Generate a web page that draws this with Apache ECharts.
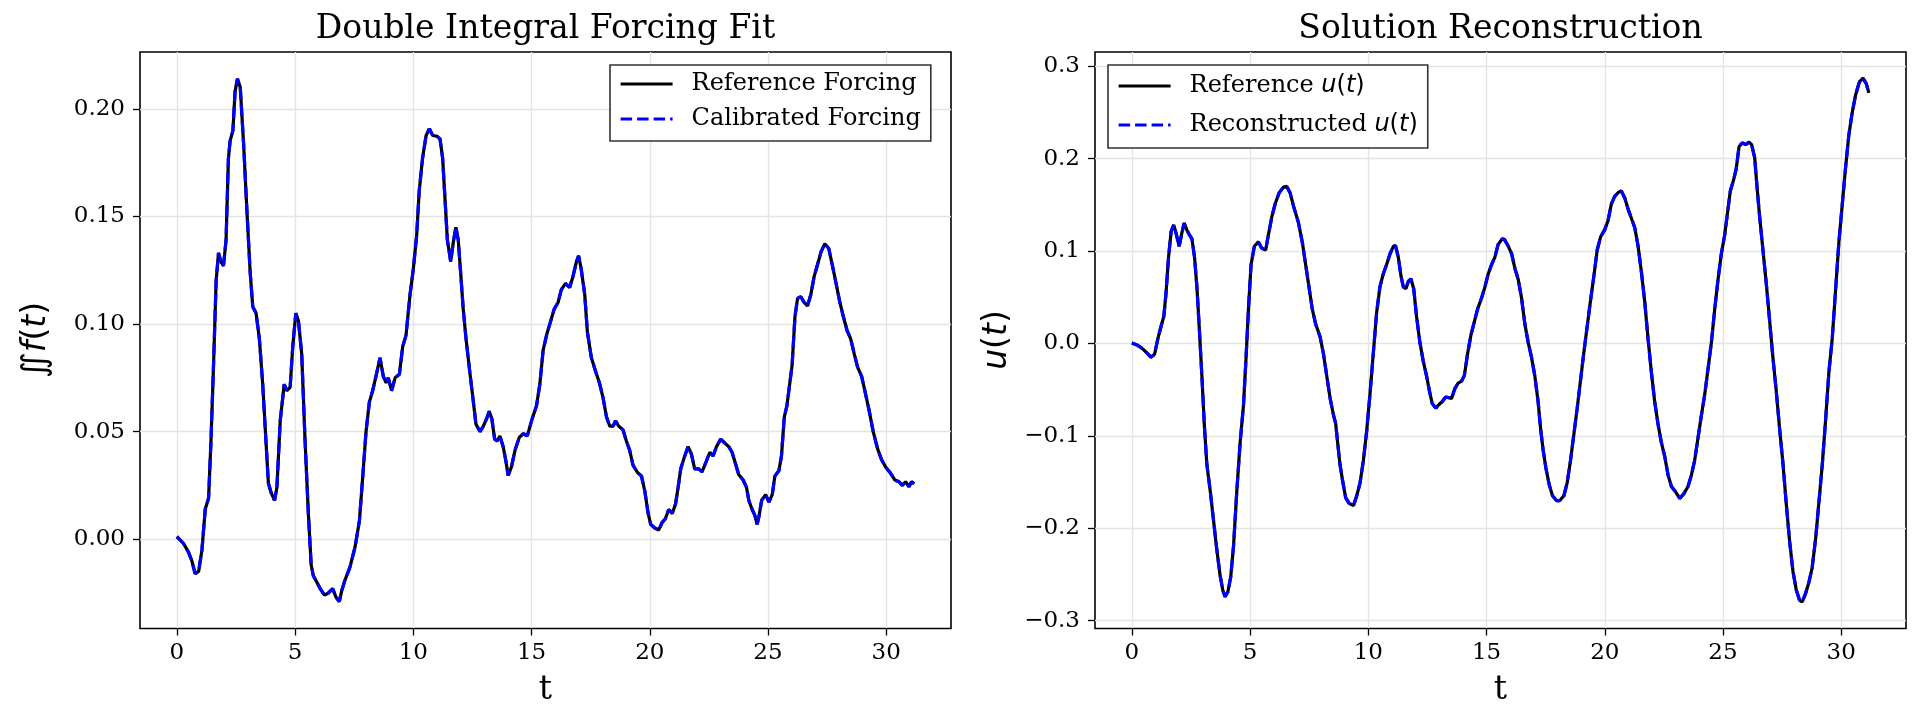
<!DOCTYPE html>
<html>
<head>
<meta charset="UTF-8">
<title>Forcing fit</title>
<script src="https://cdn.jsdelivr.net/npm/echarts@6/dist/echarts.min.js"></script>
<style>
  body{margin:0;background:#fff}
</style>
</head>
<body>
<div id="main" style="width:1921px;height:721px"></div>
<script>
// left panel: double integral of the forcing
var tForce = [0.00,0.28,0.49,0.63,0.77,0.92,1.06,1.20,1.34,1.44,1.55,1.66,1.76,1.86,1.97,2.08,2.18,2.25,2.37,2.46,
  2.56,2.68,2.82,2.96,3.10,3.21,3.35,3.49,3.63,3.77,3.87,3.99,4.13,4.23,4.37,4.54,4.65,4.79,4.90,5.03,
  5.14,5.28,5.42,5.56,5.68,5.77,5.92,6.06,6.24,6.41,6.59,6.73,6.87,6.97,7.11,7.32,7.54,7.72,7.86,8.00,
  8.14,8.28,8.42,8.59,8.73,8.85,8.94,9.08,9.23,9.41,9.55,9.69,9.86,10.00,10.14,10.25,10.39,10.54,10.68,10.82,
  10.99,11.13,11.24,11.34,11.44,11.58,11.69,11.80,11.90,12.00,12.11,12.23,12.39,12.54,12.65,12.82,12.96,13.10,13.21,13.32,
  13.44,13.55,13.66,13.80,13.92,14.01,14.15,14.30,14.48,14.65,14.82,15.00,15.21,15.35,15.49,15.65,15.80,15.95,16.12,16.26,
  16.43,16.61,16.75,16.90,16.99,17.10,17.25,17.36,17.53,17.70,17.88,18.03,18.17,18.31,18.45,18.55,18.69,18.87,19.01,19.15,
  19.29,19.48,19.65,19.79,19.93,20.04,20.21,20.38,20.52,20.66,20.80,20.95,21.09,21.20,21.31,21.48,21.62,21.76,21.90,22.07,
  22.21,22.36,22.54,22.68,22.82,23.00,23.17,23.34,23.48,23.62,23.76,23.95,24.09,24.19,24.33,24.44,24.54,24.63,24.73,24.90,
  25.04,25.18,25.29,25.46,25.57,25.69,25.80,25.92,26.02,26.14,26.25,26.39,26.53,26.67,26.81,26.95,27.09,27.24,27.40,27.57,
  27.72,27.88,28.04,28.19,28.34,28.50,28.65,28.79,28.96,29.10,29.27,29.45,29.63,29.80,29.97,30.16,30.37,30.54,30.68,30.82,
  30.96,31.07,31.18];
var forceRef = [0.0012,-0.002,-0.006,-0.010,-0.016,-0.015,-0.005,0.014,0.019,0.045,0.081,0.120,0.133,0.129,0.127,0.139,0.177,0.185,0.190,0.208,
  0.214,0.210,0.184,0.153,0.124,0.108,0.105,0.093,0.072,0.045,0.026,0.0215,0.018,0.024,0.055,0.072,0.069,0.0706,0.0895,0.105,
  0.1015,0.086,0.046,0.012,-0.012,-0.017,-0.020,-0.023,-0.026,-0.025,-0.023,-0.027,-0.029,-0.024,-0.019,-0.013,-0.0034,0.0086,0.029,0.050,
  0.0637,0.069,0.0757,0.0843,0.0757,0.0726,0.075,0.069,0.075,0.0766,0.0895,0.0947,0.1136,0.1256,0.141,0.162,0.177,0.1876,0.1907,0.1876,
  0.1873,0.186,0.177,0.158,0.139,0.129,0.138,0.145,0.139,0.124,0.107,0.093,0.0775,0.0637,0.0534,0.050,0.0525,0.056,0.0594,0.056,
  0.0465,0.0456,0.048,0.043,0.036,0.0296,0.0336,0.0413,0.0473,0.049,0.048,0.055,0.062,0.072,0.0878,0.0955,0.1010,0.1067,0.110,0.116,
  0.1188,0.117,0.122,0.129,0.1317,0.1256,0.1136,0.0964,0.0843,0.0783,0.0723,0.0654,0.0568,0.0525,0.0525,0.055,0.0525,0.0508,0.0456,0.0413,
  0.0344,0.031,0.0293,0.0224,0.012,0.0069,0.0052,0.0043,0.0077,0.0095,0.0138,0.012,0.0164,0.0241,0.0327,0.0387,0.043,0.0396,0.0327,0.0327,
  0.0313,0.0353,0.0404,0.0387,0.043,0.0465,0.0447,0.043,0.0404,0.0353,0.0301,0.0275,0.0241,0.018,0.0138,0.0112,0.0069,0.0112,0.018,0.0207,
  0.0172,0.0207,0.0293,0.0318,0.0387,0.0568,0.062,0.0723,0.0809,0.1033,0.1119,0.1127,0.110,0.1084,0.1136,0.122,0.1274,0.1334,0.1373,0.1351,
  0.1274,0.1188,0.110,0.1033,0.0972,0.093,0.086,0.080,0.0757,0.0688,0.0602,0.050,0.0422,0.037,0.0336,0.031,0.0275,0.0267,0.025,0.0267,
  0.0244,0.0267,0.0258];
// the calibrated curve sits on top of the reference at this resolution
var forceCal = forceRef.slice();

// right panel: u(t)
var tU = [0.00,0.21,0.42,0.63,0.80,0.96,1.10,1.24,1.35,1.44,1.55,1.66,1.77,1.87,2.00,2.11,2.21,2.32,2.44,2.54,
  2.65,2.75,2.85,2.96,3.07,3.17,3.31,3.45,3.59,3.73,3.85,3.94,4.06,4.18,4.30,4.44,4.58,4.72,4.83,4.93,
  5.04,5.18,5.35,5.49,5.66,5.77,5.92,6.06,6.23,6.41,6.55,6.69,6.83,7.04,7.21,7.35,7.49,7.63,7.77,7.96,
  8.10,8.24,8.38,8.52,8.62,8.70,8.80,8.90,9.04,9.18,9.37,9.51,9.65,9.79,9.93,10.07,10.21,10.35,10.49,10.63,
  10.77,10.92,11.06,11.15,11.27,11.38,11.48,11.59,11.69,11.80,11.92,12.04,12.18,12.32,12.46,12.58,12.70,12.85,12.99,13.13,
  13.27,13.41,13.52,13.66,13.80,13.94,14.06,14.20,14.34,14.48,14.62,14.79,14.93,15.07,15.21,15.35,15.49,15.66,15.76,15.92,
  16.06,16.20,16.34,16.48,16.62,16.76,16.90,17.04,17.18,17.28,17.39,17.51,17.65,17.79,17.96,18.10,18.27,18.41,18.55,18.69,
  18.83,18.97,19.11,19.25,19.39,19.54,19.68,19.82,20.00,20.14,20.28,20.42,20.56,20.70,20.85,20.99,21.13,21.27,21.41,21.55,
  21.69,21.83,21.97,22.11,22.25,22.39,22.54,22.68,22.82,23.00,23.17,23.34,23.52,23.66,23.80,23.94,24.08,24.23,24.37,24.51,
  24.65,24.79,24.93,25.07,25.21,25.31,25.45,25.56,25.68,25.82,25.96,26.10,26.21,26.34,26.44,26.55,26.69,26.83,26.97,27.11,
  27.25,27.39,27.54,27.68,27.82,27.96,28.10,28.24,28.35,28.49,28.63,28.77,28.92,29.06,29.20,29.34,29.48,29.62,29.76,29.90,
  30.04,30.18,30.32,30.46,30.61,30.77,30.92,31.06,31.17];
var uRef = [0.0004,-0.0016,-0.005,-0.010,-0.0148,-0.0116,0.0052,0.0192,0.0292,0.0532,0.0932,0.1212,0.1284,0.1192,0.1052,0.1192,0.1304,0.1232,0.1172,0.1132,
  0.0932,0.0612,0.0172,-0.0348,-0.0908,-0.1308,-0.1588,-0.1908,-0.2228,-0.2508,-0.2676,-0.274,-0.2688,-0.2528,-0.2188,-0.1588,-0.1068,-0.0668,-0.0148,0.0372,
  0.0852,0.1052,0.110,0.1032,0.1012,0.1172,0.1372,0.1512,0.1632,0.1692,0.170,0.1632,0.1492,0.1312,0.1092,0.0852,0.0612,0.0372,0.0212,0.0072,
  -0.0108,-0.0348,-0.0588,-0.0768,-0.0868,-0.1068,-0.1308,-0.1468,-0.1668,-0.1728,-0.1756,-0.1648,-0.1508,-0.1268,-0.0948,-0.0548,-0.0108,0.0332,0.0612,0.0752,
  0.0852,0.0972,0.1052,0.106,0.0932,0.0732,0.0612,0.0592,0.0672,0.070,0.0592,0.0292,0.0012,-0.0188,-0.0348,-0.0508,-0.0648,-0.070,-0.066,-0.0628,
  -0.058,-0.0588,-0.0596,-0.0488,-0.0428,-0.0408,-0.0348,-0.0108,0.0092,0.0232,0.0372,0.0492,0.0612,0.0752,0.0852,0.0932,0.1072,0.1132,0.1124,0.1052,
  0.0972,0.0812,0.0692,0.0492,0.0212,0.0012,-0.0148,-0.0348,-0.0628,-0.0908,-0.1148,-0.1348,-0.1528,-0.1648,-0.170,-0.170,-0.1648,-0.1508,-0.1268,-0.0988,
  -0.0708,-0.0408,-0.0108,0.0172,0.0452,0.0732,0.1012,0.1152,0.1232,0.1332,0.1512,0.1592,0.1632,0.1652,0.1572,0.1452,0.1352,0.1252,0.1052,0.0772,
  0.0452,0.0052,-0.0308,-0.0628,-0.0868,-0.1068,-0.1228,-0.1428,-0.1548,-0.1608,-0.1676,-0.1628,-0.1548,-0.1428,-0.1268,-0.1028,-0.0788,-0.0548,-0.0268,0.0012,
  0.0372,0.0692,0.0972,0.1172,0.1452,0.1652,0.1772,0.1892,0.2132,0.2172,0.2152,0.218,0.2152,0.2012,0.1692,0.1372,0.1012,0.0652,0.0252,-0.0148,
  -0.0508,-0.0908,-0.1308,-0.1748,-0.2148,-0.2468,-0.2668,-0.278,-0.2796,-0.2708,-0.2588,-0.2428,-0.2108,-0.1708,-0.1308,-0.0828,-0.0308,0.0052,0.0572,0.1092,
  0.1492,0.1892,0.2252,0.2492,0.2692,0.2832,0.2872,0.2812,0.2712];
var uRec = uRef.slice();

var tTicks = [0, 5, 10, 15, 20, 25, 30];
var forceTicks = [0, 0.05, 0.10, 0.15, 0.20];
var uTicks = [-0.3, -0.2, -0.1, 0, 0.1, 0.2, 0.3];

function pairs(t, v) {
  return t.map(function (x, i) { return [x, v[i]]; });
}

var SERIF = 'DejaVu Serif';
var SANS = 'DejaVu Sans';
var mathRich = {
  m: {fontFamily: SANS, fontStyle: 'italic', fontSize: 24, color: '#000'},
  p: {fontFamily: SANS, fontSize: 24, color: '#000'}
};

function xAxisFor(grid) {
  return {
    type: 'value', gridIndex: grid, min: -1.56, max: 32.74,
    axisLine: {show: false, onZero: false},
    axisTick: {show: true, length: 7, customValues: tTicks, lineStyle: {color: '#000', width: 1.3}},
    axisLabel: {customValues: tTicks, margin: 13, color: '#000', fontFamily: SERIF, fontSize: 23},
    splitLine: {show: true, lineStyle: {color: '#e4e4e4', width: 1.3}}
  };
}
function yAxisFor(grid, min, max, ticks, fmt) {
  return {
    type: 'value', gridIndex: grid, min: min, max: max,
    axisLine: {show: false, onZero: false},
    axisTick: {show: true, length: 7, customValues: ticks, lineStyle: {color: '#000', width: 1.3}},
    axisLabel: {customValues: ticks, margin: 15, color: '#000', fontFamily: SERIF, fontSize: 23, formatter: fmt},
    splitLine: {show: true, lineStyle: {color: '#e4e4e4', width: 1.3}}
  };
}
function lineSeries(name, grid, data, color, dashed, z) {
  return {
    name: name, type: 'line', xAxisIndex: grid, yAxisIndex: grid,
    data: data, symbol: 'none', showSymbol: false, z: z,
    lineStyle: {color: color, width: 3.2, type: dashed ? [11.5, 5] : 'solid'},
    itemStyle: {color: color}
  };
}
function legendFor(names, left, lh, pad) {
  return {
    data: names, orient: 'vertical', left: left, top: 65,
    itemWidth: 52, itemHeight: lh, itemGap: 9, padding: pad,
    selectedMode: false, backgroundColor: '#fff',
    borderColor: '#333', borderWidth: 1.6,
    itemStyle: {opacity: 0},
    lineStyle: {width: 3.2},
    textStyle: {fontFamily: SERIF, fontSize: 24, color: '#000', lineHeight: lh, padding: [0, 0, 0, 14], rich: mathRich},
    formatter: function (n) { return n.replace('u(t)', '{m|u}{p|(}{m|t}{p|)}'); }
  };
}
function txt(x, y, text) {
  return {type: 'text', x: x, y: y,
    style: {text: text, fill: '#000', font: '33px "' + SERIF + '"', textAlign: 'center', textVerticalAlign: 'middle'}};
}

var labRich = {
  s: {fontFamily: SANS, fontSize: 33, color: '#000'},
  i: {fontFamily: SANS, fontStyle: 'italic', fontSize: 33, color: '#000'}
};

var chart = echarts.init(document.getElementById('main'), null, {renderer: 'canvas'});
chart.setOption({
  animation: false,
  backgroundColor: '#fff',
  grid: [
    {left: 140, top: 52, width: 811, height: 576.5, show: true, borderColor: '#000', borderWidth: 1.6, backgroundColor: 'transparent'},
    {left: 1095, top: 52, width: 811, height: 576.5, show: true, borderColor: '#000', borderWidth: 1.6, backgroundColor: 'transparent'}
  ],
  xAxis: [xAxisFor(0), xAxisFor(1)],
  yAxis: [
    yAxisFor(0, -0.0415, 0.2264, forceTicks, function (v) { return v.toFixed(2); }),
    yAxisFor(1, -0.3085, 0.3155, uTicks, function (v) { return (v < -1e-9 ? '\u2212' : '') + Math.abs(v).toFixed(1); })
  ],
  legend: [
    legendFor(['Reference Forcing', 'Calibrated Forcing'], 610, 26, [6, 10, 9, 9]),
    legendFor(['Reference u(t)', 'Reconstructed u(t)'], 1108, 30, [6, 10, 8, 9])
  ],
  series: [
    lineSeries('Reference Forcing', 0, pairs(tForce, forceRef), '#000000', false, 2),
    lineSeries('Calibrated Forcing', 0, pairs(tForce, forceCal), '#0000ff', true, 3),
    lineSeries('Reference u(t)', 1, pairs(tU, uRef), '#000000', false, 2),
    lineSeries('Reconstructed u(t)', 1, pairs(tU, uRec), '#0000ff', true, 3)
  ],
  graphic: [
    txt(545.5, 29, 'Double Integral Forcing Fit'),
    txt(1500.5, 29, 'Solution Reconstruction'),
    txt(545.5, 690, 't'),
    txt(1500.5, 690, 't'),
    {type: 'text', x: 36, y: 340, rotation: Math.PI / 2,
      style: {text: '{s|\u222C}{i|f}{s|(}{i|t}{s|)}', rich: labRich, textAlign: 'center', textVerticalAlign: 'middle'}},
    {type: 'text', x: 997, y: 340, rotation: Math.PI / 2,
      style: {text: '{i|u}{s|(}{i|t}{s|)}', rich: labRich, textAlign: 'center', textVerticalAlign: 'middle'}}
  ]
});
</script>
</body>
</html>
